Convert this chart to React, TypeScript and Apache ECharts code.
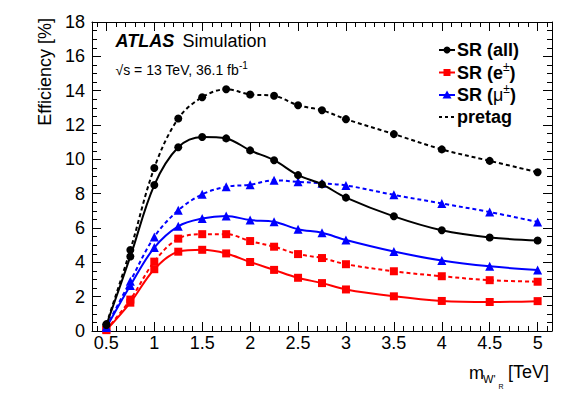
import React, { useEffect, useRef } from "react";
import * as echarts from "echarts";

const massPoints = [0.5, 0.75, 1, 1.25, 1.5, 1.75, 2, 2.25, 2.5, 2.75, 3, 3.5, 4, 4.5, 5];
const srAll = [0.35, 4.34, 8.5, 10.7, 11.3, 11.22, 10.52, 9.95, 9.08, 8.54, 7.77, 6.68, 5.87, 5.45, 5.27];
const pretagAll = [0.4, 4.72, 9.5, 12.38, 13.62, 14.08, 13.78, 13.7, 13.15, 12.86, 12.34, 11.47, 10.58, 9.91, 9.25];
const srMu = [0.2, 2.65, 4.86, 6.1, 6.55, 6.7, 6.46, 6.37, 5.93, 5.72, 5.3, 4.63, 4.11, 3.77, 3.55];
const pretagMu = [0.25, 2.9, 5.48, 7.03, 7.96, 8.4, 8.52, 8.78, 8.69, 8.6, 8.48, 7.93, 7.43, 6.93, 6.35];
const srE = [0.05, 1.65, 3.6, 4.62, 4.73, 4.52, 4.02, 3.56, 3.1, 2.79, 2.42, 2.02, 1.75, 1.69, 1.74];
const pretagE = [0.08, 1.83, 4.04, 5.38, 5.64, 5.64, 5.24, 4.91, 4.48, 4.25, 3.89, 3.48, 3.19, 2.96, 2.87];

const xMajorTicks = [0.5, 1, 1.5, 2, 2.5, 3, 3.5, 4, 4.5, 5];
const xMinorTicks = [
  0.4, 0.5, 0.6, 0.7, 0.8, 0.9, 1.0, 1.1, 1.2, 1.3, 1.4, 1.5, 1.6, 1.7, 1.8, 1.9, 2.0,
  2.1, 2.2, 2.3, 2.4, 2.5, 2.6, 2.7, 2.8, 2.9, 3.0, 3.1, 3.2, 3.3, 3.4, 3.5, 3.6, 3.7,
  3.8, 3.9, 4.0, 4.1, 4.2, 4.3, 4.4, 4.5, 4.6, 4.7, 4.8, 4.9, 5.0, 5.1,
];

const FONT = "Liberation Sans, Arial, Helvetica, sans-serif";

function pairs(ys: number[]) {
  return massPoints.map((x, i) => [x, ys[i]]);
}

export default function App() {
  const ref = useRef<HTMLDivElement>(null);
  useEffect(() => {
    if (!ref.current) return;
    const chart = echarts.init(ref.current, null, { renderer: "svg" });

    const xBase = {
      type: "value",
      min: 0.35,
      max: 5.15,
      splitLine: { show: false },
      axisLine: { onZero: false, lineStyle: { color: "#000", width: 1 } },
    };
    const yBase = {
      type: "value",
      min: 0,
      max: 18,
      interval: 2,
      splitLine: { show: false },
      minorSplitLine: { show: false },
      axisLine: { onZero: false, lineStyle: { color: "#000", width: 1 } },
      axisTick: { inside: true, length: 9, lineStyle: { color: "#000" } },
      minorTick: { show: true, splitNumber: 4, length: 5, lineStyle: { color: "#000" } },
    };

    const mkSeries = (
      name: string,
      ys: number[],
      color: string,
      symbol: string,
      size: number,
      dashed: boolean,
      z: number
    ) => ({
      name,
      type: "line",
      data: pairs(ys),
      smooth: 0.35,
      symbol,
      symbolSize: size,
      showSymbol: true,
      z,
      lineStyle: { color, width: 2, type: dashed ? [4, 3] : "solid" },
      itemStyle: { color, borderWidth: 0 },
    });

    const legendRows = [
      { y: 50, color: "#000", marker: "circle", dashed: false },
      { y: 72.5, color: "#ff0000", marker: "square", dashed: false },
      { y: 95, color: "#0000ff", marker: "triangle", dashed: false },
      { y: 117, color: "#000", marker: "none", dashed: true },
    ];
    const legendLabels = [
      "{b|SR (all)}",
      "{b|SR (e}{s|±}{b|)}",
      "{b|SR (}{m|μ}{s|±}{b|)}",
      "{b|pretag}",
    ];
    const richLegend = {
      b: { fontFamily: FONT, fontWeight: "bold", fontSize: 18, lineHeight: 24, fill: "#000" },
      m: { fontFamily: FONT, fontWeight: "normal", fontSize: 18, lineHeight: 24, fill: "#000" },
      s: { fontFamily: FONT, fontWeight: "normal", fontSize: 12, lineHeight: 18, verticalAlign: "top", fill: "#000" },
    };

    const legendGraphics: any[] = [];
    legendRows.forEach((r, i) => {
      legendGraphics.push({
        type: "line",
        shape: { x1: 439, y1: r.y, x2: 455, y2: r.y },
        style: { stroke: r.color, lineWidth: 2, lineDash: r.dashed ? [3, 3] : null },
      });
      if (r.marker === "circle") {
        legendGraphics.push({ type: "circle", shape: { cx: 447, cy: r.y, r: 3.5 }, style: { fill: r.color } });
      } else if (r.marker === "square") {
        legendGraphics.push({ type: "rect", shape: { x: 443.5, y: r.y - 3.5, width: 7, height: 7 }, style: { fill: r.color } });
      } else if (r.marker === "triangle") {
        legendGraphics.push({
          type: "polygon",
          shape: { points: [[447, r.y - 4.5], [451.5, r.y + 3.5], [442.5, r.y + 3.5]] },
          style: { fill: r.color },
        });
      }
      legendGraphics.push({
        type: "text",
        x: 457,
        y: r.y,
        style: {
          text: legendLabels[i],
          rich: richLegend,
          textVerticalAlign: "middle",
          verticalAlign: "middle",
          align: "left",
        },
      });
    });

    const option: any = {
      animation: false,
      backgroundColor: "#fff",
      grid: { left: 92, right: 29, top: 22, bottom: 63, containLabel: false },
      xAxis: [
        {
          ...xBase,
          position: "bottom",
          axisTick: { inside: true, length: 9, customValues: xMajorTicks, lineStyle: { color: "#000" } },
          axisLabel: {
            customValues: xMajorTicks,
            fontSize: 18,
            fontFamily: FONT,
            color: "#000",
            margin: 3,
          },
        },
        {
          ...xBase,
          position: "bottom",
          axisLine: { show: false, onZero: false },
          axisTick: { inside: true, length: 5, customValues: xMinorTicks, lineStyle: { color: "#000" } },
          axisLabel: { show: false },
        },
        {
          ...xBase,
          position: "top",
          axisTick: { inside: true, length: 9, customValues: xMajorTicks, lineStyle: { color: "#000" } },
          axisLabel: { show: false },
        },
        {
          ...xBase,
          position: "top",
          axisLine: { show: false, onZero: false },
          axisTick: { inside: true, length: 5, customValues: xMinorTicks, lineStyle: { color: "#000" } },
          axisLabel: { show: false },
        },
      ],
      yAxis: [
        {
          ...yBase,
          position: "left",
          axisLabel: { fontSize: 18, fontFamily: FONT, color: "#000", margin: 7 },
        },
        {
          ...yBase,
          position: "right",
          axisLabel: { show: false },
        },
      ],
      series: [
        mkSeries("pretag (all)", pretagAll, "#000", "circle", 8, true, 3),
        mkSeries("SR (all)", srAll, "#000", "circle", 8, false, 3),
        mkSeries("pretag (μ±)", pretagMu, "#0000ff", "triangle", 9, true, 2),
        mkSeries("SR (μ±)", srMu, "#0000ff", "triangle", 9, false, 2),
        mkSeries("pretag (e±)", pretagE, "#ff0000", "rect", 8, true, 1),
        mkSeries("SR (e±)", srE, "#ff0000", "rect", 8, false, 1),
      ],
      graphic: [
        {
          type: "text",
          x: 115.5,
          y: 41,
          style: {
            text: "ATLAS",
            font: `italic bold 18px ${FONT}`,
            fill: "#000",
            textVerticalAlign: "middle",
            verticalAlign: "middle",
          },
        },
        {
          type: "text",
          x: 182.5,
          y: 41,
          style: {
            text: "Simulation",
            font: `normal 18px ${FONT}`,
            fill: "#000",
            textVerticalAlign: "middle",
            verticalAlign: "middle",
          },
        },
        {
          type: "text",
          x: 115.5,
          y: 70,
          style: {
            text: "{n|√s = 13 TeV, 36.1 fb}{s|-1}",
            rich: {
              n: { fontFamily: FONT, fontSize: 14, lineHeight: 20, fill: "#000" },
              s: { fontFamily: FONT, fontSize: 10, lineHeight: 12, verticalAlign: "top", fill: "#000" },
            },
            textVerticalAlign: "middle",
            verticalAlign: "middle",
          },
        },
        {
          type: "text",
          x: 45,
          y: 18,
          rotation: Math.PI / 2,
          style: {
            text: "Efficiency [%]",
            font: `normal 18px ${FONT}`,
            fill: "#000",
            align: "right",
            textAlign: "right",
            verticalAlign: "middle",
            textVerticalAlign: "middle",
          },
        },
        {
          type: "text",
          x: 469,
          y: 373,
          style: { text: "m", font: `normal 18px ${FONT}`, fill: "#000", verticalAlign: "middle", textVerticalAlign: "middle" },
        },
        {
          type: "text",
          x: 483,
          y: 379,
          style: { text: "W'", font: `normal 11px ${FONT}`, fill: "#000", verticalAlign: "middle", textVerticalAlign: "middle" },
        },
        {
          type: "text",
          x: 498.5,
          y: 386.5,
          style: { text: "R", font: `normal 7px ${FONT}`, fill: "#000", verticalAlign: "middle", textVerticalAlign: "middle" },
        },
        {
          type: "text",
          x: 508,
          y: 372,
          style: { text: "[TeV]", font: `normal 18px ${FONT}`, fill: "#000", verticalAlign: "middle", textVerticalAlign: "middle" },
        },
        ...legendGraphics,
      ],
    };

    chart.setOption(option);
    return () => chart.dispose();
  }, []);

  return (
    <div
      ref={ref}
      style={{ position: "fixed", left: 0, top: 0, width: 581, height: 394, background: "#fff" }}
    />
  );
}
